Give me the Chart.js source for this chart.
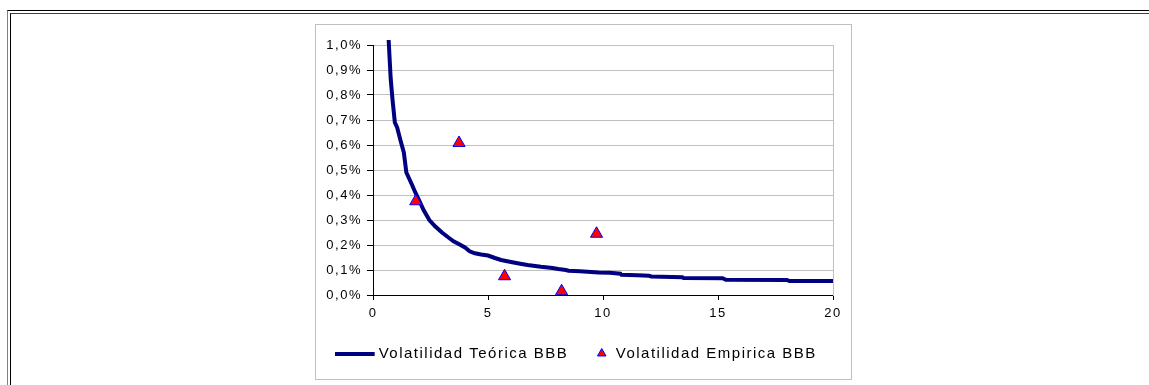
<!DOCTYPE html>
<html><head><meta charset="utf-8">
<script src="https://cdn.jsdelivr.net/npm/chart.js@4.4.1/dist/chart.umd.min.js"></script>
<style>
html,body{margin:0;padding:0;background:#fff;width:1149px;height:385px;overflow:hidden;}
#f1{position:absolute;left:7px;top:10px;width:1200px;height:400px;border-top:1px solid #000;border-left:1px solid #808080;}
#f2{position:absolute;left:10px;top:13px;width:1200px;height:400px;border-top:1px solid #404040;border-left:1px solid #000;}
#f3{position:absolute;left:315px;top:24px;width:535px;height:354px;border:1px solid #bfbfbf;}
#c{position:absolute;left:0;top:0;}
</style></head><body>
<div id="f1"></div><div id="f2"></div><div id="f3"></div>
<canvas id="c" width="1149" height="385"></canvas>
<script>
// ---- data ----
const seriesNames = ['Volatilidad Teórica BBB', 'Volatilidad Empirica BBB'];
const theoX = [0.68,0.72,0.77,0.85,0.95,1.05,1.19,1.34,1.45,1.55,1.70,1.84,2.0,2.2,2.45,2.7,3.0,3.28,3.5,3.71,4.0,4.2,4.43,4.7,5.0,5.3,5.57,6.0,6.4,6.72,7.3,7.8,8.06,8.38,8.5,9.0,9.81,10.3,10.76,10.8,11.5,12.0,12.1,13.0,13.45,13.5,15.2,15.34,18.0,18.1,20.0];
const theoY = [1.02,0.95,0.865,0.78,0.69,0.67,0.62,0.57,0.49,0.47,0.44,0.41,0.38,0.34,0.30,0.275,0.25,0.23,0.215,0.205,0.19,0.175,0.167,0.162,0.158,0.148,0.14,0.132,0.125,0.12,0.113,0.108,0.104,0.10,0.097,0.095,0.09,0.089,0.085,0.081,0.079,0.077,0.074,0.072,0.071,0.068,0.067,0.061,0.06,0.056,0.056];
const empX = [1.86, 3.74, 5.72, 8.2, 9.72];
const empY = [0.375, 0.608, 0.075, 0.015, 0.245];
const xTickValues = [0, 5, 10, 15, 20];
const yTickValues = [0, 0.1, 0.2, 0.3, 0.4, 0.5, 0.6, 0.7, 0.8, 0.9, 1.0];

const FONT = "'Liberation Sans', Arial, sans-serif";
Chart.defaults.font.family = FONT;
Chart.defaults.color = '#000';

// legend line sample (thick navy line), offset so it sits left of its text
const lineImg = document.createElement('canvas');
lineImg.width = 60; lineImg.height = 4;
(function(){ const g = lineImg.getContext('2d'); g.fillStyle = '#000080'; g.fillRect(0, 0, 40, 4); })();

const SP = '1.5px';
const spacing = {
  id: 'spacing',
  beforeUpdate(c){ c.ctx.letterSpacing = SP; },
  beforeLayout(c){ c.ctx.letterSpacing = SP; },
  beforeDraw(c){ c.ctx.letterSpacing = SP; }
};

new Chart(document.getElementById('c'), {
  type: 'scatter',
  data: {
    datasets: [
      {
        label: seriesNames[0],
        data: theoX.map((x, i) => ({x, y: theoY[i]})),
        showLine: true,
        borderColor: '#000080',
        backgroundColor: '#000080',
        borderWidth: 4,
        pointRadius: 0,
        tension: 0,
        clip: false,
        order: 2
      },
      {
        label: seriesNames[1],
        data: empX.map((x, i) => ({x, y: empY[i]})),
        showLine: false,
        pointStyle: 'triangle',
        pointRadius: 7,
        pointBackgroundColor: '#FF0000',
        pointBorderColor: '#0000FF',
        backgroundColor: '#FF0000',
        borderColor: '#0000FF',
        pointBorderWidth: 1,
        borderWidth: 1,
        order: 1
      }
    ]
  },
  options: {
    responsive: false,
    animation: false,
    events: [],
    layout: { padding: { left: 324, right: 298, top: 45, bottom: 14 } },
    plugins: {
      tooltip: { enabled: false },
      legend: {
        position: 'bottom',
        labels: {
          usePointStyle: true,
          boxWidth: 13,
          boxHeight: 7,
          padding: 27,
          color: '#000',
          font: { size: 15, family: FONT },
          sort: (a, b) => a.datasetIndex - b.datasetIndex,
          generateLabels(chart) {
            const items = Chart.defaults.plugins.legend.labels.generateLabels(chart);
            items.forEach(it => {
              if (it.datasetIndex === 0) { it.pointStyle = lineImg; }
              else { it.pointStyle = 'triangle'; it.fillStyle = '#FF0000'; it.strokeStyle = '#0000FF'; it.lineWidth = 1; }
            });
            return items;
          }
        }
      }
    },
    scales: {
      x: {
        type: 'linear', min: 0, max: 20,
        afterBuildTicks: s => { s.ticks = xTickValues.map(v => ({value: v})); },
        afterFit: s => { s.height = 24; },
        grid: { drawOnChartArea: false, drawTicks: true, tickLength: 5, color: '#000', tickColor: '#000' },
        border: { display: true, color: '#000', width: 1 },
        ticks: { padding: 6, color: '#000', font: { size: 13 }, maxRotation: 0 }
      },
      y: {
        type: 'linear', min: 0, max: 1.0,
        afterBuildTicks: s => { s.ticks = yTickValues.map(v => ({value: v})); },
        afterFit: s => { s.width = 49; },
        grid: { color: '#c0c0c0', tickColor: '#000', tickLength: 6, drawTicks: true },
        border: { display: true, color: '#000', width: 1 },
        ticks: { padding: 5, color: '#000', font: { size: 13 },
          callback: v => v.toFixed(1).replace('.', ',') + '%' }
      },
      y2: {
        type: 'linear', position: 'right', min: 0, max: 1,
        afterFit: s => { s.width = 18; },
        grid: { drawOnChartArea: false, drawTicks: false },
        border: { display: true, color: '#c0c0c0', width: 1 },
        ticks: { display: false }
      }
    }
  },
  plugins: [spacing]
});
</script>
</body></html>
